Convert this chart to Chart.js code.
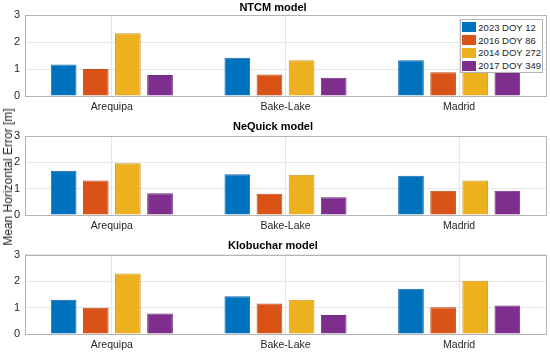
<!DOCTYPE html>
<html>
<head>
<meta charset="utf-8">
<script src="https://cdn.jsdelivr.net/npm/chart.js@4/dist/chart.umd.min.js"></script>
<style>
  body { margin: 0; background: #fff; }
  #wrap { position: relative; width: 550px; height: 354px; overflow: hidden; background: #fff; }
  canvas { position: absolute; left: 0; }
  #ylabel {
    position: absolute; left: 8px; top: 177px; white-space: nowrap;
    transform: translate(-50%, -50%) rotate(-90deg);
    font: 12px "Liberation Sans", Arial, sans-serif; color: #262626;
  }
  #legend {
    position: absolute; right: 7px; top: 19px; height: 54px;
    background: #fff; border: 1px solid #b4b4b4; box-sizing: border-box;
    font: 9.5px "Liberation Sans", Arial, sans-serif; color: #262626;
    padding: 1px 1px 0 0; white-space: nowrap;
  }
  .item { display: flex; align-items: center; height: 12.8px; }
  .sw { width: 14px; height: 10px; margin: 0 2px 0 1px; flex: none; }
</style>
</head>
<body>
<div id="wrap">
  <canvas id="c1" width="550" height="120" style="top:0"></canvas>
  <canvas id="c2" width="550" height="119" style="top:120px"></canvas>
  <canvas id="c3" width="550" height="115" style="top:239px"></canvas>
  <div id="ylabel">Mean Horizontal Error [m]</div>
  <div id="legend"></div>
</div>
<script>
const categories = ['Arequipa', 'Bake-Lake', 'Madrid'];
const seriesLabels = ['2023 DOY 12', '2016 DOY 86', '2014 DOY 272', '2017 DOY 349'];
const yTicks = [0, 1, 2, 3];

// NTCM model
const ntcm2023 = [1.17, 1.42, 1.33];
const ntcm2016 = [1.00, 0.80, 0.88];
const ntcm2014 = [2.33, 1.33, 1.70];
const ntcm2017 = [0.78, 0.68, 1.00];

// NeQuick model
const nequick2023 = [1.68, 1.55, 1.49];
const nequick2016 = [1.31, 0.81, 0.92];
const nequick2014 = [1.97, 1.53, 1.31];
const nequick2017 = [0.83, 0.68, 0.92];

// Klobuchar model
const klob2023 = [1.30, 1.43, 1.71];
const klob2016 = [0.99, 1.15, 1.01];
const klob2014 = [2.29, 1.30, 2.01];
const klob2017 = [0.78, 0.72, 1.08];

const fills = ['#0072BD', '#D95319', '#EDB120', '#7E2F8E'];
const edges = ['#1a68a8', '#c24d1c', '#c99a2a', '#6e2a7c'];

const sans = '"Liberation Sans", Arial, sans-serif';

// box round the plot area (top and right sides)
const boxPlugin = {
    id: 'box',
    afterDraw(chart) {
        const a = chart.chartArea, ctx = chart.ctx;
        ctx.save();
        ctx.strokeStyle = '#b4b4b4';
        ctx.lineWidth = 1;
        ctx.strokeRect(Math.round(a.left) + 0.5, Math.round(a.top) + 0.5,
            Math.round(a.right - a.left), Math.round(a.bottom - a.top));
        ctx.restore();
    }
};

function makeChart(id, title, series, titlePad, xHeight) {
    new Chart(document.getElementById(id), {
        type: 'bar',
        data: {
            labels: categories,
            datasets: series.map((vals, i) => ({
                label: seriesLabels[i],
                data: vals,
                backgroundColor: fills[i],
                borderColor: edges[i],
                borderWidth: 1,
                categoryPercentage: 0.74,
                barPercentage: 0.8
            }))
        },
        options: {
            responsive: false,
            animation: false,
            layout: { padding: { left: 0, right: 4, top: 0, bottom: 0 } },
            plugins: {
                legend: { display: false },
                tooltip: { enabled: false },
                title: {
                    display: true,
                    text: title,
                    color: '#000',
                    font: { family: sans, size: 11, weight: 'bold' },
                    padding: titlePad
                }
            },
            scales: {
                x: {
                    grid: { offset: false, color: '#e6e6e6', drawTicks: false },
                    border: { color: '#b4b4b4' },
                    ticks: { color: '#262626', padding: 5, font: { family: sans, size: 10.5 } },
                    afterFit: s => { s.height = xHeight; }
                },
                y: {
                    min: yTicks[0],
                    max: yTicks[yTicks.length - 1],
                    afterBuildTicks: s => { s.ticks = yTicks.map(v => ({ value: v })); },
                    grid: { color: '#e6e6e6', drawTicks: false },
                    border: { color: '#b4b4b4' },
                    ticks: { color: '#262626', padding: 5, font: { family: sans, size: 11 } },
                    afterFit: s => { s.width = 25; }
                }
            }
        },
        plugins: [boxPlugin]
    });
}

makeChart('c1', 'NTCM model', [ntcm2023, ntcm2016, ntcm2014, ntcm2017], { top: 1, bottom: 1 }, 24);
makeChart('c2', 'NeQuick model', [nequick2023, nequick2016, nequick2014, nequick2017], { top: 0, bottom: 3 }, 24);
makeChart('c3', 'Klobuchar model', [klob2023, klob2016, klob2014, klob2017], { top: 0, bottom: 2.5 }, 20);

// legend drawn on top of the first panel
document.getElementById('legend').innerHTML = seriesLabels.map((s, i) =>
    `<div class="item"><span class="sw" style="background:${fills[i]}"></span>${s}</div>`).join('');
</script>
</body>
</html>
